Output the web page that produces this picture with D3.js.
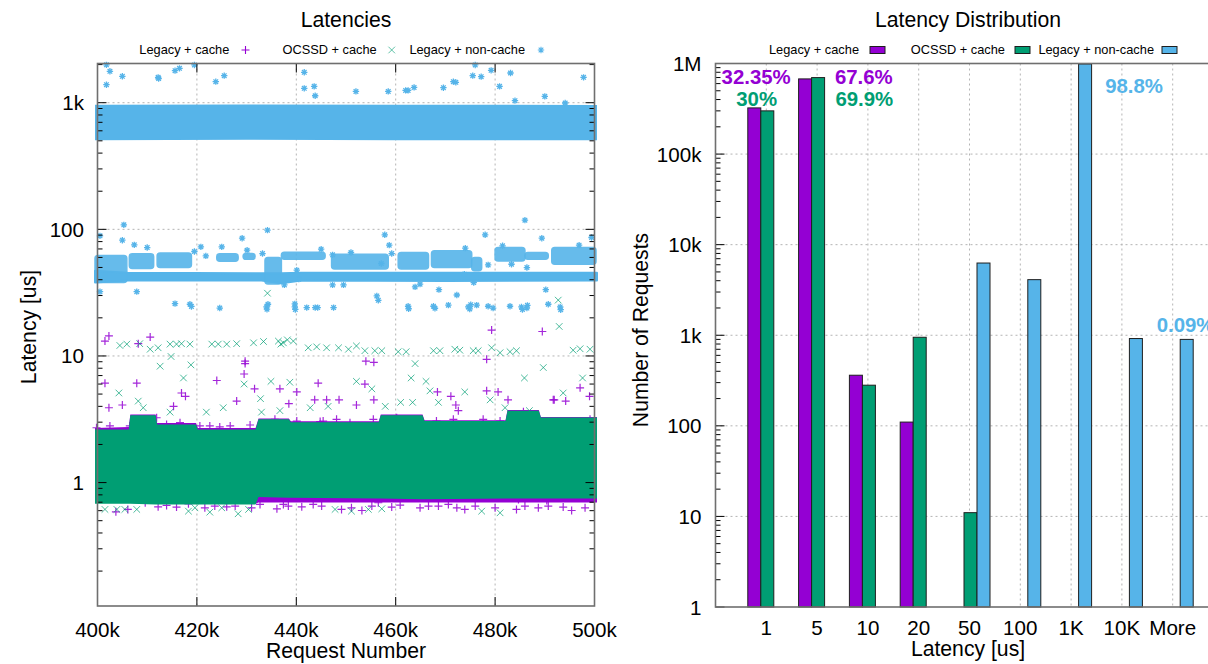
<!DOCTYPE html>
<html>
<head>
<meta charset="utf-8">
<script src="https://cdn.jsdelivr.net/npm/d3@7"></script>
<style>
  html, body { margin: 0; padding: 0; background: #fff; }
  svg { display: block; font-family: "Liberation Sans", Arial, Helvetica, sans-serif; }
</style>
</head>
<body>
<svg id="chart" width="1208" height="664"></svg>
<script>
// ---------------- data ----------------
const seriesNames = ["Legacy + cache", "OCSSD + cache", "Legacy + non-cache"];

// Left panel: request number (thousands) vs latency (us)
const requestTicks = [400, 420, 440, 460, 480, 500];
const requestTickLabels = ["400k", "420k", "440k", "460k", "480k", "500k"];
const latencyTicks = [1, 10, 100, 1000];
const latencyTickLabels = ["1", "10", "100", "1k"];

// dense regions: [request k, low latency, high latency]
const legacyCacheBand = [
  [399.5, 0.69, 2.7], [406.3, 0.69, 2.75], [406.6, 0.69, 3.45], [411.7, 0.68, 3.45],
  [412.0, 0.68, 2.95], [419.8, 0.68, 2.95], [420.2, 0.68, 2.7], [431.8, 0.68, 2.7],
  [432.4, 0.695, 3.2], [438.5, 0.695, 3.2], [438.9, 0.695, 3.05], [456.6, 0.695, 3.05],
  [457.0, 0.695, 3.45], [465.4, 0.695, 3.45], [465.8, 0.695, 3.1], [482.1, 0.695, 3.1],
  [482.5, 0.695, 3.75], [488.8, 0.695, 3.75], [489.2, 0.695, 3.3], [500.5, 0.695, 3.3]
];
const ocssdCacheBand = [
  [399.5, 0.68, 2.63], [406.3, 0.68, 2.63], [406.6, 0.68, 3.4], [411.7, 0.67, 3.4],
  [412.0, 0.67, 2.88], [419.8, 0.67, 2.88], [420.2, 0.67, 2.63], [431.8, 0.67, 2.63],
  [432.4, 0.77, 3.16], [438.5, 0.76, 3.16], [438.9, 0.76, 3.0], [456.6, 0.75, 3.0],
  [457.0, 0.75, 3.4], [465.4, 0.74, 3.4], [465.8, 0.74, 3.06], [482.1, 0.75, 3.06],
  [482.5, 0.75, 3.7], [488.8, 0.75, 3.7], [489.2, 0.75, 3.26], [500.5, 0.75, 3.26]
];
const nonCacheBand = [
  [399.5, 505, 965], [430, 510, 970], [460, 505, 965], [500.5, 505, 960]
];
const nonCacheStripe = [
  [399.5, 38, 47], [406, 39.5, 45.5], [433, 39.5, 45], [437, 37.5, 45],
  [441, 39.5, 45.5], [470, 39, 45.5], [500.5, 39.5, 45.5]
];
// patches: [start k, end k, low, high]
const nonCachePatches = [
  [399.5, 405.9, 38, 62], [406.4, 411.3, 49, 64], [412.0, 418.9, 50, 65],
  [424.0, 428.3, 56, 64], [429.3, 431.7, 58, 64.4], [433.7, 437.0, 37, 60],
  [437.0, 445.8, 58, 66], [447.1, 458.5, 48.5, 63.7], [460.5, 466.6, 48.5, 65.6],
  [467.2, 475.3, 50, 67.6], [475.3, 477.3, 47, 60], [480.0, 486.0, 56.3, 71.8],
  [486.0, 490.7, 58, 65.6], [491.4, 500.3, 53, 71.8]
];

// isolated samples: [request k, latency]
const legacyCachePoints = [
  [401.5, 13.1], [402.3, 14.4], [401.5, 6.1], [408.2, 12.5], [410.6, 14.1], [407.9, 6.1],
  [402.3, 3.9], [405, 4.1], [415.3, 4.0], [416.9, 5.1], [417.7, 4.8], [424, 6.4],
  [429.7, 9.1], [429.7, 8.7], [429.5, 7.2], [431.6, 5.5], [428, 4.4], [436.7, 5.5],
  [438.5, 4.2], [440.1, 5.2], [444.4, 6.1], [443.7, 4.5], [446.1, 4.5], [448.6, 4.5],
  [452.1, 4.1], [453.8, 6.0], [454, 9.1], [455.6, 8.9], [455.6, 4.5], [468.4, 5.2],
  [471.1, 4.8], [472.1, 4.1], [472.6, 3.7], [478.3, 5.3], [478.3, 9.4], [479.3, 16.0],
  [480.6, 5.2], [482.6, 4.5], [489.5, 15.6], [491.9, 4.5], [497.1, 5.6], [499, 4.8],
  [494.2, 4.4],
  [399.8, 2.71], [402.5, 2.8], [406.5, 2.8], [411.9, 3.25], [413.9, 2.88], [416.6, 2.97],
  [420.6, 2.8], [422.6, 2.8], [424.6, 2.75], [426.7, 2.8], [430.7, 2.85], [435.7, 3.16],
  [440.1, 3.06], [444.8, 3.03], [445.4, 3.06], [448.1, 3.16], [450.8, 2.97], [455.5, 3.16],
  [460.2, 3.25], [468.2, 3.06], [471.6, 3.16], [477.6, 3.16], [481, 3.06], [485.7, 3.63],
  [491.7, 4.5], [495.1, 3.06], [499.1, 3.16],
  [403.7, 0.588], [406.1, 0.614], [409.6, 0.693], [412.2, 0.644], [413.9, 0.66], [415.9, 0.64],
  [418.3, 0.68], [421.6, 0.632], [423.6, 0.652], [426, 0.644], [427.7, 0.652], [431, 0.632],
  [432.7, 0.672], [436.1, 0.621], [437.4, 0.672], [438.4, 0.652], [441.1, 0.644], [443.4, 0.672],
  [445.1, 0.652], [449.1, 0.614], [451.1, 0.632], [453.2, 0.602], [455.2, 0.652], [456.5, 0.693],
  [459.2, 0.64], [460.9, 0.664], [464.9, 0.632], [466.6, 0.652], [468.6, 0.652], [470.6, 0.672],
  [472.3, 0.632], [473.9, 0.614], [476, 0.652], [480, 0.632], [484.3, 0.614], [486, 0.652],
  [488.7, 0.632], [490.7, 0.652], [493.7, 0.64], [495.4, 0.602], [498.1, 0.632], [484.7, 0.736],
  [490.4, 0.723]
];
const ocssdCachePoints = [
  [404.5, 12.1], [405.9, 12.4], [408.5, 12.5], [410.6, 11.3], [412.2, 11.6], [414.6, 12.4],
  [415.9, 12.4], [416.9, 12.5], [418.6, 12.4], [423, 12.4], [424.3, 12.4], [426, 12.4],
  [428, 12.5], [431.4, 12.7], [433.4, 13.0], [436.4, 13.1], [437.4, 12.7], [439.4, 13.1],
  [436.9, 12.4], [438.2, 13.4], [442.4, 11.6], [444.1, 11.8], [446.1, 11.6], [448.5, 11.6],
  [450.5, 11.3], [452.1, 12.0], [453.8, 11.0], [455.8, 11.0], [457.2, 11.0], [460.5, 10.8],
  [462.1, 10.8], [467.6, 11.0], [468.9, 11.0], [471.9, 11.3], [472.9, 11.1], [475.6, 11.0],
  [476.6, 11.0], [479.3, 11.6], [481, 10.6], [483, 10.8], [484.3, 11.0], [495.7, 11.1],
  [497.1, 11.4], [499.1, 11.3],
  [412.6, 8.3], [414.8, 9.9], [417.3, 6.7], [418.8, 8.5], [404.3, 5.1], [408.2, 4.4],
  [409.2, 3.9], [429.5, 6.0], [434.9, 6.3], [438.7, 6.2], [432.8, 4.6], [425.3, 3.9],
  [421.9, 3.6], [452.1, 6.3], [455.2, 5.5], [457.9, 4.0], [463.9, 8.7], [463.1, 6.7],
  [466.1, 6.3], [466.9, 5.3], [468.6, 4.3], [473.9, 5.2], [479, 4.5], [485.9, 6.7],
  [489.7, 8.1], [492.9, 17.1], [497.6, 6.7], [493.7, 5.1], [486.9, 3.7], [482, 3.9],
  [463.4, 4.3], [461, 4.3], [446.4, 4.0], [442.8, 3.9], [433, 3.6], [414.6, 3.6],
  [436.7, 3.7], [434.2, 31.3], [492.7, 27.6],
  [401.5, 0.614], [403.9, 0.614], [405.5, 0.614], [407.9, 0.614], [418.3, 0.595], [419.6, 0.632],
  [422.6, 0.584], [425, 0.632], [428.3, 0.567], [430.4, 0.614], [447.8, 0.614], [451.1, 0.595],
  [454.5, 0.614], [457.2, 0.621], [477.3, 0.595], [481, 0.577]
];
const nonCachePoints = [
  [401.8, 1990], [402.5, 1770], [401.8, 1388], [405, 1616], [412.2, 1586], [412.3, 1550],
  [415.6, 1791], [416.5, 1868], [419.5, 1987], [423.8, 1466], [425.5, 1635], [441.6, 1738],
  [441.6, 1298], [443.6, 1346], [443.8, 1135], [452, 1228], [458.5, 1228], [462, 1251],
  [462.5, 1251], [463.7, 1321], [469.6, 1314], [471.6, 1466], [472.1, 1448], [475.5, 1635],
  [476, 1987], [477.2, 1606], [479.2, 1801], [480.9, 1346], [483.1, 1717], [484, 1038],
  [490, 1122], [494.1, 995], [497.8, 1586],
  [400.5, 88.8], [405.3, 108.5], [405, 82.1], [407.4, 75.4], [410, 71.8], [407.9, 32.2],
  [419.5, 66.8], [420.8, 72.7], [421.8, 61.7], [425, 72.7], [429.1, 85.1], [430.1, 68.4],
  [434.2, 98.5], [433.2, 64.4], [437.6, 36.4], [440.1, 47.6], [440.5, 40.4], [445, 69.7],
  [447.3, 62.9], [447.3, 36.4], [449.5, 36.4], [451, 65.6], [457.8, 90.5], [458.7, 75],
  [457.1, 53.7], [459.2, 64.4], [456.2, 29.8], [456.5, 27.5], [463.9, 35.1], [464.9, 36.9],
  [468.7, 33.4], [472.3, 30.3], [474, 71], [478, 90.5], [478.6, 52.4], [473.8, 44.2],
  [475.7, 38], [481.5, 74.1], [486, 118.2], [489.4, 85.1], [490.2, 33.4], [496.9, 75],
  [499.4, 86.2], [400.5, 32.2], [486.4, 49.9], [483.3, 53],
  [415.6, 25.9], [418.6, 25.6], [418.9, 24.6], [424.6, 23.9], [434, 24.4], [434.3, 25.6],
  [434.1, 23.4], [439.7, 24.4], [439.7, 25.8], [439.8, 23.3], [442.1, 24.1], [443.8, 24.1],
  [444.3, 24.1], [447.5, 24.1], [462.5, 24.7], [462.6, 23.6], [467.6, 24.7], [467.9, 23.8],
  [470.6, 25.2], [474.6, 24.4], [474.9, 23.5], [475.1, 25.4], [476.3, 25.2], [478.6, 24.7],
  [479.6, 23.9], [483, 24.7], [485.3, 24.4], [485.5, 23.3], [486.4, 23.9], [486.5, 25.1],
  [490.7, 25.6], [493.1, 24.4], [493.2, 23.2]
];

// Right panel: latency histogram
const latencyBins = ["1", "5", "10", "20", "50", "100", "1K", "10K", "More"];
const legacyCacheCounts = [323500, 676000, 362, 110, 0, 0, 0, 0, 0];
const ocssdCacheCounts = [300000, 699000, 281, 950, 11, 0, 0, 0, 0];
const legacyNonCacheCounts = [0, 0, 0, 0, 6270, 4110, 988000, 920, 900];
const countTicks = [1, 10, 100, 1000, 10000, 100000, 1000000];
const countTickLabels = ["1", "10", "100", "1k", "10k", "100k", "1M"];
const shareLabels = ["32.35%", "30%", "67.6%", "69.9%", "98.8%", "0.09%"];

// ---------------- drawing ----------------
const svg = d3.select("#chart");
const colors = ["#9400d3", "#009e73", "#56b4e9"];
const frameColor = "#6f6f6f";
const gridColor = "#b4b4b4";
const tickFont = 20.6;
const titleFont = 21.2;

const plusPath = "M-4,0H4M0,-4V4";
const crossPath = "M-3.3,-3.3L3.3,3.3M-3.3,3.3L3.3,-3.3";
const starPath = "M-3.2,0H3.2M0,-3.2V3.2M-2.3,-2.3L2.3,2.3M-2.3,2.3L2.3,-2.3";

// ===== left panel: Latencies =====
const L = { left: 97.5, right: 594.5, top: 63.5, bottom: 606 };
const xL = d3.scaleLinear().domain([400, 500]).range([L.left, L.right]);
const yL = d3.scaleLog().domain([0.106, 2040]).range([L.bottom, L.top]);

const gL = svg.append("g");

// grid
gL.append("g").selectAll("line").data(requestTicks.slice(1, -1)).join("line")
  .attr("x1", d => xL(d)).attr("x2", d => xL(d))
  .attr("y1", L.top).attr("y2", L.bottom)
  .attr("stroke", gridColor).attr("stroke-dasharray", "2,3");
gL.append("g").selectAll("line").data(latencyTicks).join("line")
  .attr("x1", L.left).attr("x2", L.right)
  .attr("y1", d => yL(d)).attr("y2", d => yL(d))
  .attr("stroke", gridColor).attr("stroke-dasharray", "2,3");

const bandArea = d3.area()
  .x(d => xL(d[0]))
  .y0(d => yL(d[1]))
  .y1(d => yL(d[2]));

const dataL = gL.append("g");

// Legacy + cache
dataL.append("path").datum(legacyCacheBand).attr("d", bandArea).attr("fill", colors[0]);
dataL.append("g").selectAll("path").data(legacyCachePoints).join("path")
  .attr("d", plusPath)
  .attr("transform", d => `translate(${xL(d[0])},${yL(d[1])})`)
  .attr("stroke", colors[0]).attr("stroke-width", 1.2).attr("fill", "none").attr("opacity", 0.85);

// OCSSD + cache
dataL.append("path").datum(ocssdCacheBand).attr("d", bandArea).attr("fill", colors[1]);
dataL.append("g").selectAll("path").data(ocssdCachePoints).join("path")
  .attr("d", crossPath)
  .attr("transform", d => `translate(${xL(d[0])},${yL(d[1])})`)
  .attr("stroke", colors[1]).attr("stroke-width", 1).attr("fill", "none").attr("opacity", 0.7);

// Legacy + non-cache
dataL.append("path").datum(nonCacheBand).attr("d", bandArea).attr("fill", colors[2]);
dataL.append("path").datum(nonCacheStripe).attr("d", bandArea)
  .attr("fill", colors[2]).attr("stroke", colors[2]).attr("stroke-width", 2)
  .attr("stroke-linejoin", "round");
dataL.append("g").selectAll("rect").data(nonCachePatches).join("rect")
  .attr("x", d => xL(d[0])).attr("width", d => xL(d[1]) - xL(d[0]))
  .attr("y", d => yL(d[3])).attr("height", d => yL(d[2]) - yL(d[3]))
  .attr("rx", 3).attr("ry", 3)
  .attr("fill", colors[2]).attr("stroke", colors[2]).attr("stroke-width", 1.5)
  .attr("stroke-linejoin", "round").attr("opacity", 0.9);
dataL.append("g").selectAll("path").data(nonCachePoints).join("path")
  .attr("d", starPath)
  .attr("transform", d => `translate(${xL(d[0])},${yL(d[1])})`)
  .attr("stroke", colors[2]).attr("stroke-width", 1.3).attr("fill", "none");

// ticks (inside, mirrored)
const majorLen = 9, minorLen = 5;
const minorL = [];
for (let e = -1; e <= 3; e++) for (let m = 2; m <= 9; m++) {
  const v = m * Math.pow(10, e);
  if (v > 0.106 && v < 2040) minorL.push(v);
}
const tickL = gL.append("g").attr("stroke", "#000").attr("stroke-width", 1);
latencyTicks.forEach(v => {
  tickL.append("line").attr("x1", L.left).attr("x2", L.left + majorLen).attr("y1", yL(v)).attr("y2", yL(v));
  tickL.append("line").attr("x1", L.right).attr("x2", L.right - majorLen).attr("y1", yL(v)).attr("y2", yL(v));
});
minorL.forEach(v => {
  tickL.append("line").attr("x1", L.left).attr("x2", L.left + minorLen).attr("y1", yL(v)).attr("y2", yL(v));
  tickL.append("line").attr("x1", L.right).attr("x2", L.right - minorLen).attr("y1", yL(v)).attr("y2", yL(v));
});
requestTicks.forEach(v => {
  tickL.append("line").attr("x1", xL(v)).attr("x2", xL(v)).attr("y1", L.bottom).attr("y2", L.bottom - majorLen);
  tickL.append("line").attr("x1", xL(v)).attr("x2", xL(v)).attr("y1", L.top).attr("y2", L.top + majorLen);
});

// frame
gL.append("rect").attr("x", L.left).attr("y", L.top)
  .attr("width", L.right - L.left).attr("height", L.bottom - L.top)
  .attr("fill", "none").attr("stroke", frameColor).attr("stroke-width", 1.6);

// tick labels
gL.append("g").selectAll("text").data(latencyTicks).join("text")
  .attr("x", L.left - 13.5).attr("y", d => yL(d) + 7.5)
  .attr("text-anchor", "end").attr("font-size", tickFont)
  .text((d, i) => latencyTickLabels[i]);
gL.append("g").selectAll("text").data(requestTicks).join("text")
  .attr("x", d => xL(d)).attr("y", 637)
  .attr("text-anchor", "middle").attr("font-size", tickFont)
  .text((d, i) => requestTickLabels[i]);

// titles
svg.append("text").attr("x", (L.left + L.right) / 2).attr("y", 27)
  .attr("text-anchor", "middle").attr("font-size", titleFont).text("Latencies");
svg.append("text").attr("x", (L.left + L.right) / 2).attr("y", 658)
  .attr("text-anchor", "middle").attr("font-size", titleFont).text("Request Number");
svg.append("text").attr("transform", "translate(36,327) rotate(-90)")
  .attr("text-anchor", "middle").attr("font-size", titleFont).text("Latency [us]");

// legend (left)
const legL = svg.append("g").attr("font-size", 12.8);
const legLText = [229.3, 376.7, 525];
const legLMark = [245.5, 391.7, 541];
const legLPaths = [plusPath, crossPath, starPath];
seriesNames.forEach((name, i) => {
  legL.append("text").attr("x", legLText[i]).attr("y", 54).attr("text-anchor", "end").text(name);
  legL.append("path").attr("d", legLPaths[i])
    .attr("transform", `translate(${legLMark[i]},50)`)
    .attr("stroke", colors[i]).attr("stroke-width", i === 1 ? 0.9 : 1.1)
    .attr("fill", "none").attr("opacity", i === 1 ? 0.7 : 1);
});

// ===== right panel: Latency Distribution =====
const R = { left: 715.5, right: 1223.5, top: 63.5, bottom: 607 };
const xR = d3.scaleLinear().domain([-1, 9]).range([R.left, R.right]);
const yR = d3.scaleLog().domain([1, 1e6]).range([R.bottom, R.top]);
const slot = d3.scaleBand().domain([0, 1, 2]).range([-18.5, 20.5]);

const gR = svg.append("g");

// grid
gR.append("g").selectAll("line").data(latencyBins).join("line")
  .attr("x1", (d, i) => xR(i)).attr("x2", (d, i) => xR(i))
  .attr("y1", R.top).attr("y2", R.bottom)
  .attr("stroke", gridColor).attr("stroke-dasharray", "2,3");
gR.append("g").selectAll("line").data(countTicks.slice(1, -1)).join("line")
  .attr("x1", R.left).attr("x2", R.right)
  .attr("y1", d => yR(d)).attr("y2", d => yR(d))
  .attr("stroke", gridColor).attr("stroke-dasharray", "2,3");

// bars
const barSeries = [legacyCacheCounts, ocssdCacheCounts, legacyNonCacheCounts];
barSeries.forEach((counts, s) => {
  gR.append("g").selectAll("rect")
    .data(counts.map((c, i) => ({ i, c })).filter(d => d.c > 0))
    .join("rect")
    .attr("x", d => xR(d.i) + slot(s))
    .attr("width", slot.bandwidth())
    .attr("y", d => yR(d.c))
    .attr("height", d => yR(1) - yR(d.c))
    .attr("fill", colors[s]).attr("stroke", "#1e1e1e").attr("stroke-width", 1);
});

// ticks on the count axis
const tickR = gR.append("g").attr("stroke", "#000").attr("stroke-width", 1);
countTicks.forEach(v => {
  tickR.append("line").attr("x1", R.left).attr("x2", R.left + majorLen).attr("y1", yR(v)).attr("y2", yR(v));
});
for (let e = 0; e < 6; e++) for (let m = 2; m <= 9; m++) {
  const v = m * Math.pow(10, e);
  tickR.append("line").attr("x1", R.left).attr("x2", R.left + minorLen).attr("y1", yR(v)).attr("y2", yR(v));
}

// frame
gR.append("rect").attr("x", R.left).attr("y", R.top)
  .attr("width", R.right - R.left).attr("height", R.bottom - R.top)
  .attr("fill", "none").attr("stroke", frameColor).attr("stroke-width", 1.6);

// tick labels
gR.append("g").selectAll("text").data(countTicks).join("text")
  .attr("x", R.left - 14).attr("y", d => yR(d) + 7.5)
  .attr("text-anchor", "end").attr("font-size", tickFont)
  .text((d, i) => countTickLabels[i]);
gR.append("g").selectAll("text").data(latencyBins).join("text")
  .attr("x", (d, i) => xR(i)).attr("y", 635)
  .attr("text-anchor", "middle").attr("font-size", tickFont)
  .text(d => d);

// share labels
const shareLayout = [
  { i: -0.2, v: Math.pow(10, 5.779), s: 0, anchor: "middle" },
  { i: -0.19, v: Math.pow(10, 5.529), s: 1, anchor: "middle" },
  { i: 1.92, v: Math.pow(10, 5.779), s: 0, anchor: "middle" },
  { i: 1.93, v: Math.pow(10, 5.529), s: 1, anchor: "middle" },
  { i: 7.24, v: Math.pow(10, 5.669), s: 2, anchor: "middle" },
  { i: 7.685, v: Math.pow(10, 3.033), s: 2, anchor: "start" }
];
gR.append("g").selectAll("text").data(shareLayout).join("text")
  .attr("x", d => xR(d.i)).attr("y", d => yR(d.v))
  .attr("text-anchor", d => d.anchor)
  .attr("font-size", 20.4).attr("font-weight", "bold")
  .attr("fill", d => colors[d.s])
  .text((d, k) => shareLabels[k]);

// titles
svg.append("text").attr("x", 968).attr("y", 27)
  .attr("text-anchor", "middle").attr("font-size", titleFont).text("Latency Distribution");
svg.append("text").attr("x", 968).attr("y", 656)
  .attr("text-anchor", "middle").attr("font-size", titleFont).text("Latency [us]");
svg.append("text").attr("transform", "translate(648,330) rotate(-90)")
  .attr("text-anchor", "middle").attr("font-size", titleFont).text("Number of Requests");

// legend (right)
const legR = svg.append("g").attr("font-size", 12.8);
const legRText = [859, 1005, 1154];
const legRBox = [870, 1015, 1162];
seriesNames.forEach((name, i) => {
  legR.append("text").attr("x", legRText[i]).attr("y", 54).attr("text-anchor", "end").text(name);
  legR.append("rect").attr("x", legRBox[i]).attr("y", 46.5).attr("width", 15).attr("height", 7)
    .attr("fill", colors[i]).attr("stroke", "#1e1e1e").attr("stroke-width", 1);
});
</script>
</body>
</html>
